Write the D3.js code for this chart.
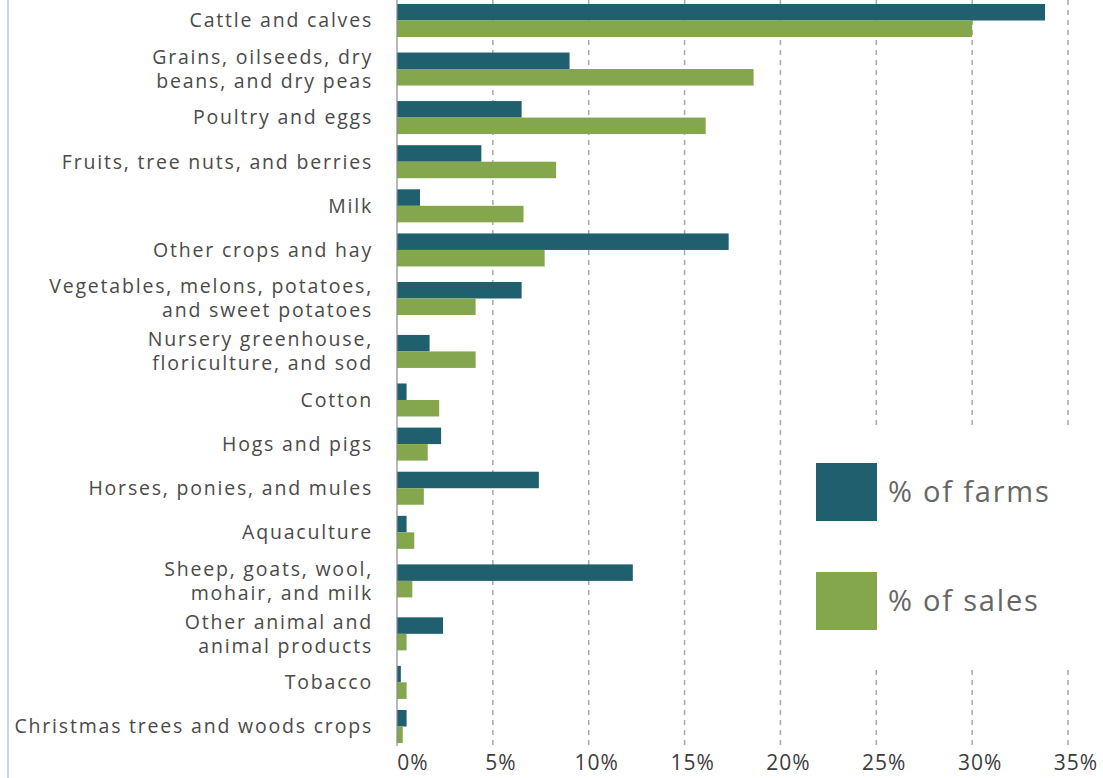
<!DOCTYPE html>
<html>
<head>
<meta charset="utf-8">
<script src="https://cdn.jsdelivr.net/npm/d3@7"></script>
<style>
    body { margin: 0; background: #fff; }
    svg { display: block; font-family: "Open Sans", sans-serif; }
</style>
</head>
<body>
<svg id="chart" width="1103" height="778"></svg>
<script>
// categories, top to bottom ("\n" = line break in label)
const categories = [
    'Cattle and calves',
    'Grains, oilseeds, dry\nbeans, and dry peas',
    'Poultry and eggs',
    'Fruits, tree nuts, and berries',
    'Milk',
    'Other crops and hay',
    'Vegetables, melons, potatoes,\nand sweet potatoes',
    'Nursery greenhouse,\nfloriculture, and sod',
    'Cotton',
    'Hogs and pigs',
    'Horses, ponies, and mules',
    'Aquaculture',
    'Sheep, goats, wool,\nmohair, and milk',
    'Other animal and\nanimal products',
    'Tobacco',
    'Christmas trees and woods crops'
];
const farms = [33.8, 9.0, 6.5, 4.4, 1.2, 17.3, 6.5, 1.7, 0.5, 2.3, 7.4, 0.5, 12.3, 2.4, 0.2, 0.5];
const sales = [30.0, 18.6, 16.1, 8.3, 6.6, 7.7, 4.1, 4.1, 2.2, 1.6, 1.4, 0.9, 0.8, 0.5, 0.5, 0.3];
const ticks = [0, 5, 10, 15, 20, 25, 30, 35];
const seriesNames = ['% of farms', '% of sales'];
const colors = ['#205f6e', '#84a64c'];

const svg = d3.select('#chart');

const x = d3.scaleLinear().domain([0, 35]).range([397, 1068]);

// rows with two-line labels get a bit more room
let pos = 0;
const centers = categories.map((c, i) => {
    const w = c.includes('\n') ? 1.2 : 1;
    if (i > 0) pos += w / 2;
    const p = pos;
    pos += w / 2;
    return p;
});
const y = d3.scaleLinear().domain([0, centers[centers.length - 1]]).range([20.5, 726.5]);
const barH = 16.5;

// left border
svg.append('line')
    .attr('x1', 8).attr('x2', 8)
    .attr('y1', 0).attr('y2', 778)
    .attr('stroke', '#c9d9e3')
    .attr('stroke-width', 2);

// gridlines
svg.append('g')
    .selectAll('line')
    .data(ticks.slice(1))
    .enter()
    .append('line')
    .attr('x1', d => x(d)).attr('x2', d => x(d))
    .attr('y1', 0).attr('y2', 746)
    .attr('stroke', '#a8a8a8')
    .attr('stroke-width', 1.5)
    .attr('stroke-dasharray', '5,5');

// legend background hides the gridlines behind it
svg.append('rect')
    .attr('x', 800).attr('y', 430)
    .attr('width', 303).attr('height', 235)
    .attr('fill', '#fff');

// bars
const rows = categories.map((c, i) => ({ c: c, vals: [farms[i], sales[i]], i: i }));
const group = svg.append('g')
    .selectAll('g')
    .data(rows)
    .enter()
    .append('g');

group.selectAll('rect')
    .data(d => d.vals.map((v, k) => ({ v: v, k: k, i: d.i })))
    .enter()
    .append('rect')
    .attr('x', x(0))
    .attr('y', d => y(centers[d.i]) - barH + d.k * barH)
    .attr('width', d => x(d.v) - x(0))
    .attr('height', barH)
    .attr('fill', d => colors[d.k]);

// axis line
svg.append('line')
    .attr('x1', x(0)).attr('x2', x(0))
    .attr('y1', 0).attr('y2', 746)
    .attr('stroke', '#8a8a8a')
    .attr('stroke-width', 1.2);

// category labels
const labels = svg.append('g')
    .selectAll('text')
    .data(rows)
    .enter()
    .append('text')
    .attr('text-anchor', 'end')
    .attr('fill', '#4a4a4a')
    .attr('font-size', 19.5)
    .attr('letter-spacing', 1.8)
    .attr('y', d => y(centers[d.i]));

labels.each(function (d) {
    const lines = d.c.split('\n');
    const el = d3.select(this);
    lines.forEach((t, j) => {
        el.append('tspan')
            .attr('x', 373)
            .attr('dy', j == 0 ? (0.35 - (lines.length - 1) * 0.62) + 'em' : '1.24em')
            .text(t);
    });
});

// x tick labels
svg.append('g')
    .selectAll('text')
    .data(ticks)
    .enter()
    .append('text')
    .attr('x', d => x(d) + (d == 0 ? 16 : 8))
    .attr('y', 770)
    .attr('text-anchor', 'middle')
    .attr('fill', '#3c3c3c')
    .attr('font-size', 21)
    .attr('letter-spacing', 1)
    .text(d => d + '%');

// legend
const legend = svg.append('g')
    .selectAll('g')
    .data(seriesNames)
    .enter()
    .append('g')
    .attr('transform', (d, i) => `translate(816, ${463 + i * 109})`);

legend.append('rect')
    .attr('width', 61)
    .attr('height', 58)
    .attr('fill', (d, i) => colors[i]);

legend.append('text')
    .attr('x', 72)
    .attr('y', 29)
    .attr('dy', '0.35em')
    .attr('fill', '#666')
    .attr('font-size', 29)
    .attr('letter-spacing', 1.8)
    .text(d => d);
</script>
</body>
</html>
